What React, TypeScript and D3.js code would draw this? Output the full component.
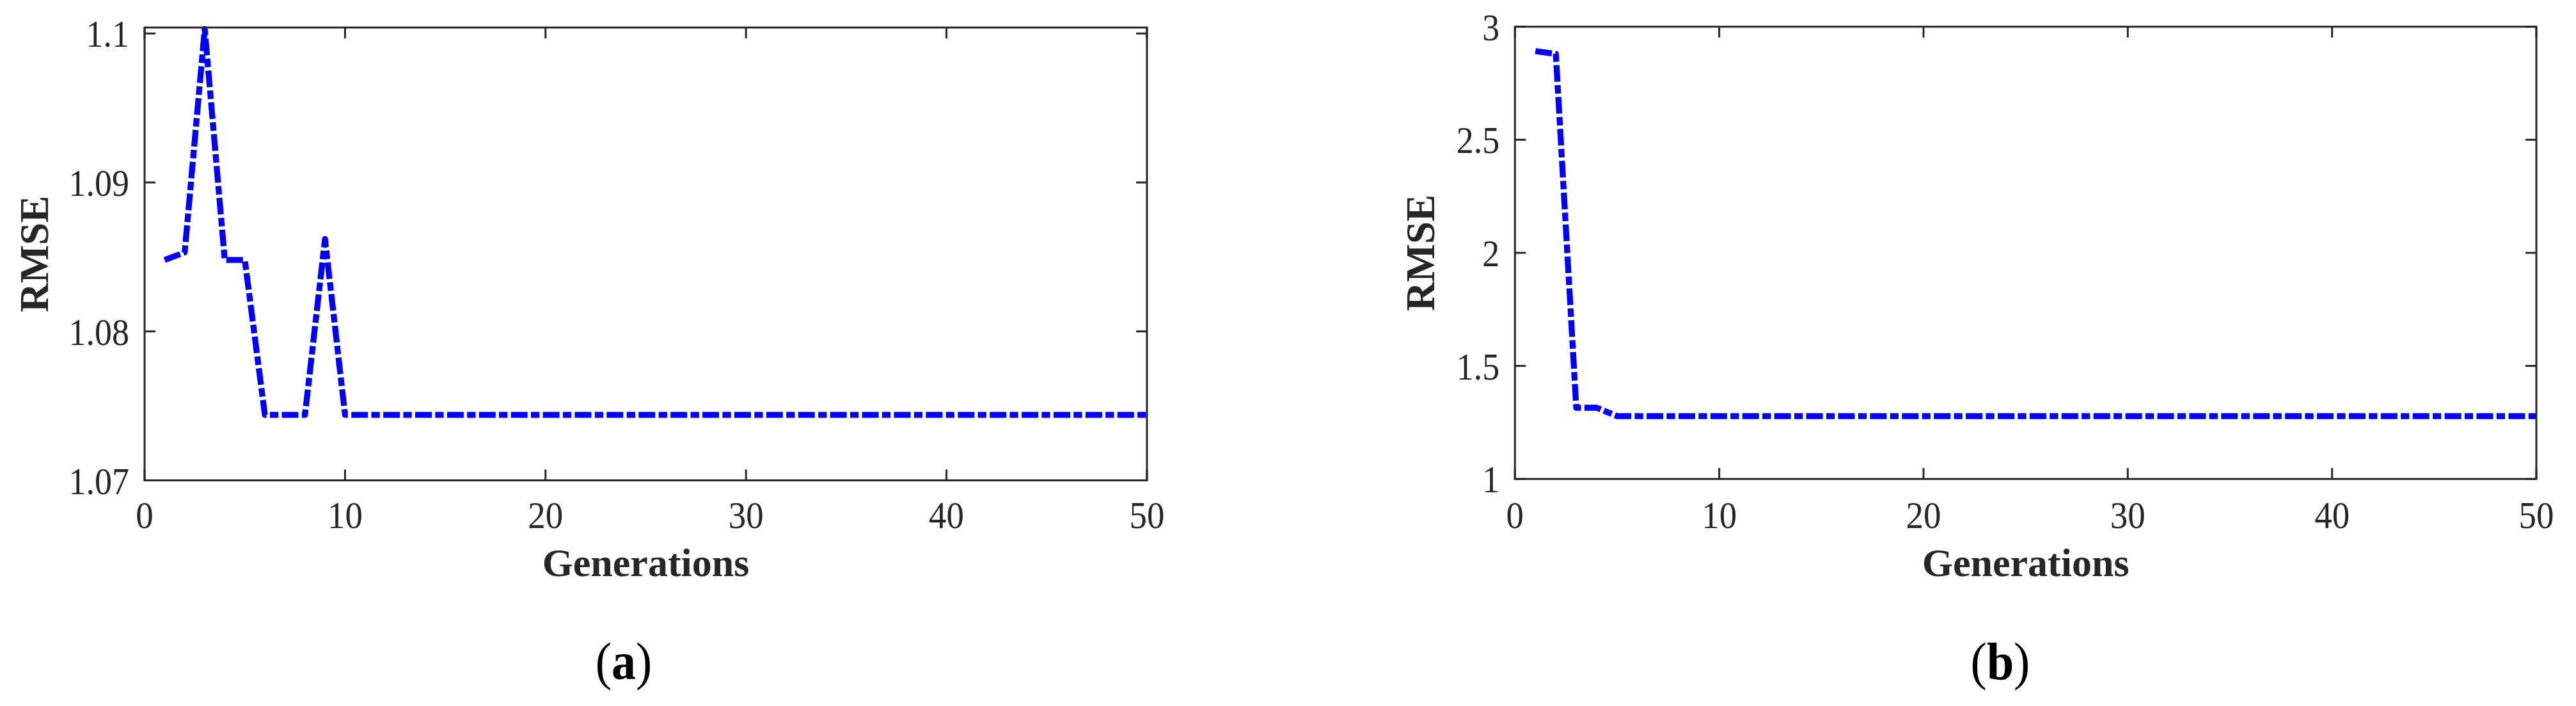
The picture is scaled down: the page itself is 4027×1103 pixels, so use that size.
import React from 'react';
import { scaleLinear, line } from 'd3';

// RMSE per generation
const rmseA = [
  1.0848, 1.0853, 1.1003, 1.0848, 1.0848, 1.0744, 1.0744, 1.0744, 1.0862, 1.0744,
  1.0744, 1.0744, 1.0744, 1.0744, 1.0744, 1.0744, 1.0744, 1.0744, 1.0744, 1.0744,
  1.0744, 1.0744, 1.0744, 1.0744, 1.0744, 1.0744, 1.0744, 1.0744, 1.0744, 1.0744,
  1.0744, 1.0744, 1.0744, 1.0744, 1.0744, 1.0744, 1.0744, 1.0744, 1.0744, 1.0744,
  1.0744, 1.0744, 1.0744, 1.0744, 1.0744, 1.0744, 1.0744, 1.0744, 1.0744, 1.0744,
];
const rmseB = [
  2.892, 2.880, 1.315, 1.315, 1.278, 1.278, 1.278, 1.278, 1.278, 1.278,
  1.278, 1.278, 1.278, 1.278, 1.278, 1.278, 1.278, 1.278, 1.278, 1.278,
  1.278, 1.278, 1.278, 1.278, 1.278, 1.278, 1.278, 1.278, 1.278, 1.278,
  1.278, 1.278, 1.278, 1.278, 1.278, 1.278, 1.278, 1.278, 1.278, 1.278,
  1.278, 1.278, 1.278, 1.278, 1.278, 1.278, 1.278, 1.278, 1.278, 1.278,
];

const xTicks = [0, 10, 20, 30, 40, 50];
const yTicksA = [1.07, 1.08, 1.09, 1.1];
const yTicksB = [1, 1.5, 2, 2.5, 3];

const xLabel = 'Generations';
const yLabel = 'RMSE';

const W = 4027;
const H = 1103;
const axisColor = '#262626';
const font = '"Liberation Serif", "Times New Roman", serif';
const tickLen = 17;

type PanelProps = {
  values: number[];
  yDomain: [number, number];
  yTicks: number[];
  left: number;
  right: number;
  top: number;
  bottom: number;
  tag: string;
  tagX: number;
  labelX: number;
};

function Panel({ values, yDomain, yTicks, left, right, top, bottom, tag, tagX, labelX }: PanelProps) {
  const x = scaleLinear().domain([0, 50]).range([left, right]);
  const y = scaleLinear().domain(yDomain).range([bottom, top]);
  const path = line<number>()
    .x((_, i) => x(i + 1))
    .y(d => y(d))(values);

  return (
    <g>
      <path d={path || ''} fill="none" stroke="#0000ff" strokeWidth={9.3}
        strokeDasharray="26 5.3 13.3 5.3" strokeLinejoin="round" />
      <rect x={left} y={top} width={right - left} height={bottom - top}
        fill="none" stroke={axisColor} strokeWidth={3} />
      {xTicks.map(t => (
        <g key={'x' + t}>
          <line x1={x(t)} x2={x(t)} y1={bottom} y2={bottom - tickLen} stroke={axisColor} strokeWidth={3} />
          <line x1={x(t)} x2={x(t)} y1={top} y2={top + tickLen} stroke={axisColor} strokeWidth={3} />
          <text transform={`translate(${x(t)},825) scale(1,1.06)`} textAnchor="middle" fontSize={55}
            fill={axisColor} fontFamily={font}>{t}</text>
        </g>
      ))}
      {yTicks.map(t => (
        <g key={'y' + t}>
          <line x1={left} x2={left + tickLen} y1={y(t)} y2={y(t)} stroke={axisColor} strokeWidth={3} />
          <line x1={right} x2={right - tickLen} y1={y(t)} y2={y(t)} stroke={axisColor} strokeWidth={3} />
          <text transform={`translate(${left - 24},${y(t) + 21}) scale(1,1.1)`} textAnchor="end"
            fontSize={54} fill={axisColor} fontFamily={font}>{String(t)}</text>
        </g>
      ))}
      <text x={(left + right) / 2} y={900} textAnchor="middle" fontSize={62} fontWeight="bold"
        fill={axisColor} fontFamily={font}>{xLabel}</text>
      <text transform={`translate(${labelX},${(top + bottom) / 2}) rotate(-90)`} textAnchor="middle"
        dy="0.35em" fontSize={63} fontWeight="bold" fill={axisColor} fontFamily={font}>{yLabel}</text>
      <text transform={`translate(${tagX},1061) scale(1,1.08)`} textAnchor="middle" fontSize={76}
        fill="#000" fontFamily={font}>
        (<tspan fontWeight="bold">{tag}</tspan>)
      </text>
    </g>
  );
}

export default function App() {
  return (
    <div style={{ position: 'absolute', left: 0, top: 0 }}>
      <svg width={W} height={H} style={{ display: 'block', background: '#fff' }}>
        <Panel values={rmseA} yDomain={[1.07, 1.1004]} yTicks={yTicksA}
          left={226} right={1793} top={43} bottom={750.5} tag="a" tagX={975} labelX={53} />
        <Panel values={rmseB} yDomain={[1, 3]} yTicks={yTicksB}
          left={2368.3} right={3965} top={41.7} bottom={748.3} tag="b" tagX={3127} labelX={2220} />
      </svg>
    </div>
  );
}
